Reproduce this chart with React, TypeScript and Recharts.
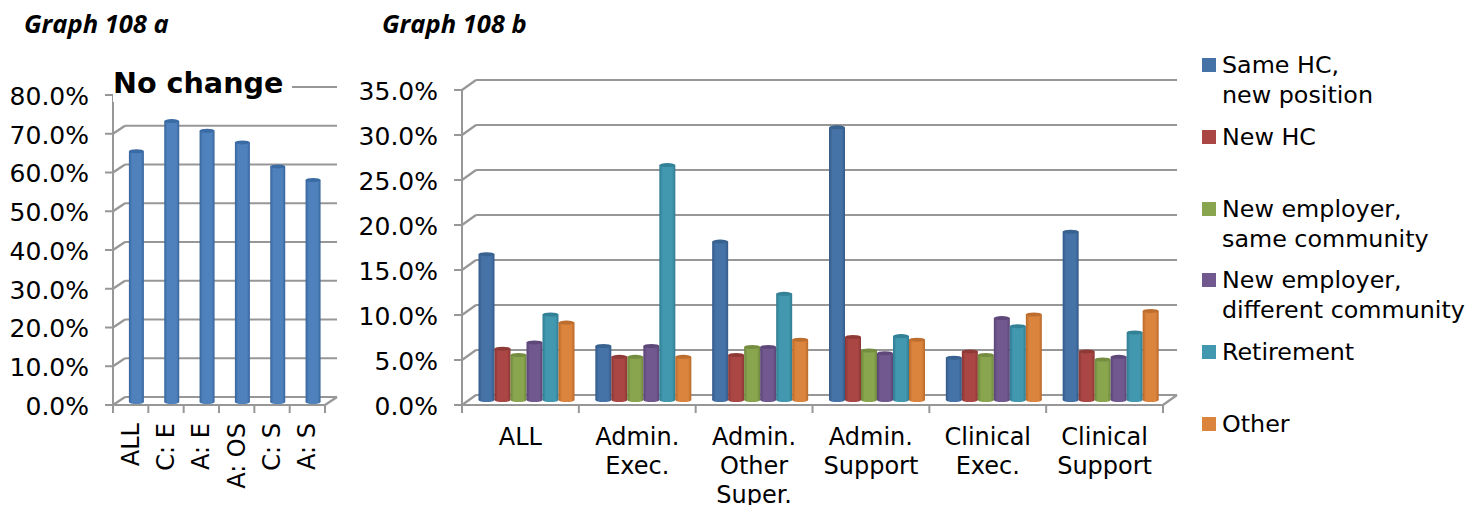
import { BarChart, Bar, XAxis, YAxis, CartesianGrid, Legend } from "recharts";

const FONT = "'DejaVu Sans', Verdana, sans-serif";
const GRID = "#979797";

const categoriesA = ["ALL", "C: E", "A: E", "A: OS", "C: S", "A: S"];
const noChange = [64.7, 72.5, 70, 67, 60.8, 57.3];
const ticksA = [0, 10, 20, 30, 40, 50, 60, 70, 80];

const categoriesB = ["ALL", "Admin. Exec.", "Admin. Other Super.", "Admin. Support", "Clinical Exec.", "Clinical Support"];
const sameHc = [16.2, 6.0, 17.6, 30.3, 4.7, 18.7];
const newHc = [5.7, 4.8, 5.0, 7.0, 5.4, 5.4];
const sameCommunity = [5.0, 4.8, 5.9, 5.5, 5.0, 4.5];
const diffCommunity = [6.4, 6.0, 5.9, 5.2, 9.1, 4.8];
const retirement = [9.5, 26.1, 11.8, 7.1, 8.2, 7.5];
const other = [8.6, 4.8, 6.7, 6.7, 9.5, 9.9];
const ticksB = [0, 5, 10, 15, 20, 25, 30, 35];

const dataA = categoriesA.map((name, i) => ({ name, noChange: noChange[i] }));
const dataB = categoriesB.map((name, i) => ({
  name,
  sameHc: sameHc[i],
  newHc: newHc[i],
  sameCommunity: sameCommunity[i],
  diffCommunity: diffCommunity[i],
  retirement: retirement[i],
  other: other[i],
}));

const seriesB = [
  { key: "sameHc", name: "Same HC,\nnew position", color: "#4572A7", dark: "#345a88", top: "#38628f" },
  { key: "newHc", name: "New HC", color: "#AA4643", dark: "#8a3634", top: "#8f3a37" },
  { key: "sameCommunity", name: "New employer,\nsame community", color: "#89A54E", dark: "#6e873c", top: "#748d40" },
  { key: "diffCommunity", name: "New employer,\ndifferent community", color: "#71588F", dark: "#5a4475", top: "#5e487a" },
  { key: "retirement", name: "Retirement", color: "#4198AF", dark: "#307c91", top: "#338196" },
  { key: "other", name: "Other", color: "#DB843D", dark: "#b9692b", top: "#bd6d2e" },
];

const blueA = { key: "noChange", color: "#4F81BD", dark: "#38669c", top: "#3a6ba4" };

function gradient(s: { key: string; color: string; dark: string }) {
  return (
    <linearGradient id={"cyl-" + s.key} key={s.key} x1="0" y1="0" x2="1" y2="0">
      <stop offset="0%" stopColor={s.dark} />
      <stop offset="22%" stopColor={s.color} />
      <stop offset="80%" stopColor={s.color} />
      <stop offset="100%" stopColor={s.dark} />
    </linearGradient>
  );
}

// bars are drawn mid-way into the fake 3d depth, so they get shifted off the front plane
function cylinder(s: { key: string; top: string }, dx: number, dy: number, ry: number) {
  return (props: any) => {
    const { x, y, width, height } = props;
    const w = width;
    const cx = x + dx + w / 2;
    return (
      <g>
        <ellipse cx={cx} cy={y + height + dy} rx={w / 2} ry={ry} fill={`url(#cyl-${s.key})`} />
        <rect x={x + dx} y={y + dy} width={w} height={height} fill={`url(#cyl-${s.key})`} />
        <ellipse cx={cx} cy={y + dy} rx={w / 2} ry={ry} fill={s.top} />
      </g>
    );
  };
}

// back wall gridline plus the little diagonal that joins it to the axis
function depthGrid(depthX: number, depthY: number, bottomY: number) {
  return (props: any) => {
    const { x1, x2, y1 } = props;
    return (
      <g key={props.key}>
        <line x1={x1} y1={y1} x2={x1 + depthX} y2={y1 - depthY} stroke={GRID} strokeWidth={2.2} />
        <line x1={x1 + depthX} y1={y1 - depthY} x2={x2 + depthX} y2={y1 - depthY} stroke={GRID} strokeWidth={2.2} />
        {y1 === bottomY && (
          <line x1={x2} y1={y1} x2={x2 + depthX} y2={y1 - depthY} stroke={GRID} strokeWidth={2.2} />
        )}
      </g>
    );
  };
}

function boundaryMarks(x: number, y: number, step: number, isLast: boolean) {
  return (
    <>
      <line x1={x - step / 2} y1={y} x2={x - step / 2} y2={y + 8} stroke={GRID} strokeWidth={2} />
      {isLast && <line x1={x + step / 2} y1={y} x2={x + step / 2} y2={y + 8} stroke={GRID} strokeWidth={2} />}
    </>
  );
}

function RotatedTick(props: any) {
  const { x, y, index, payload } = props;
  const step = 35.3;
  return (
    <g>
      {boundaryMarks(x, y, step, index === categoriesA.length - 1)}
      <text
        x={0}
        y={0}
        transform={`translate(${x + 8},${y + 18}) rotate(-90)`}
        textAnchor="end"
        fontSize={24}
        fontFamily={FONT}
        fill="#000"
      >
        {payload.value}
      </text>
    </g>
  );
}

function WrappedTick(props: any) {
  const { x, y, index, payload } = props;
  const step = 116.8;
  const lines = String(payload.value).split(" ");
  return (
    <g>
      {boundaryMarks(x, y, step, index === categoriesB.length - 1)}
      <text textAnchor="middle" fontSize={24} fontFamily={FONT} fill="#000">
        {lines.map((line, i) => (
          <tspan key={line} x={x} y={y + 40 + i * 29}>
            {line}
          </tspan>
        ))}
      </text>
    </g>
  );
}

function LegendBox(props: any) {
  return (
    <div style={{ fontFamily: FONT, fontSize: 23.8, color: "#000" }}>
      {props.payload.map((item: any) => (
        <div key={item.value} style={{ display: "flex", height: 71.8 }}>
          <div style={{ width: 14, height: 14, marginTop: 8, marginRight: 6, background: item.color }} />
          <div style={{ whiteSpace: "pre-line", lineHeight: "30px" }}>{item.value}</div>
        </div>
      ))}
    </div>
  );
}

const titleStyle: React.CSSProperties = {
  position: "absolute",
  top: 8,
  fontFamily: "'Open Sans', Lato, sans-serif",
  fontWeight: 700,
  fontStyle: "italic",
  fontSize: 25.5,
  color: "#000",
  lineHeight: "30px",
};

export default function App() {
  const pct = (v: number) => v.toFixed(1) + "%";
  const axisStroke = { stroke: GRID, strokeWidth: 2 };
  const tickStyle = { fontSize: 25, fontFamily: FONT, fill: "#000", dy: 1 };

  return (
    <div style={{ position: "absolute", left: 0, top: 0, width: 1473, height: 505, overflow: "hidden", background: "#fff" }}>
      <div style={{ ...titleStyle, left: 24 }}>Graph 108 a</div>
      <div style={{ ...titleStyle, left: 382 }}>Graph 108 b</div>

      <div style={{ position: "absolute", left: 0, top: 0 }}>
        <BarChart
          width={345}
          height={505}
          data={dataA}
          margin={{ top: 95, right: 20, bottom: 0, left: 0 }}
          barCategoryGap={10.4}
        >
          <defs>{gradient(blueA)}</defs>
          <CartesianGrid vertical={false} horizontal={depthGrid(12, 8, 405)} stroke={GRID} />
          <XAxis dataKey="name" height={100} interval={0} tickLine={false} tickSize={0} tickMargin={0} axisLine={axisStroke} tick={<RotatedTick />} />
          <YAxis width={113} domain={[0, 80]} ticks={ticksA} interval={0} tickFormatter={pct} tickSize={8} tickMargin={16} axisLine={axisStroke} tickLine={axisStroke} tick={tickStyle} />
          <Bar dataKey="noChange" isAnimationActive={false} shape={cylinder(blueA, 5.5, -3, 2)} />
        </BarChart>
      </div>

      <div
        style={{
          position: "absolute",
          left: 113,
          top: 64,
          background: "#fff",
          fontFamily: FONT,
          fontWeight: 700,
          fontSize: 28.6,
          lineHeight: "38px",
          paddingRight: 9,
          color: "#000",
        }}
      >
        No change
      </div>

      <div style={{ position: "absolute", left: 345, top: 0 }}>
        <BarChart
          width={1128}
          height={505}
          data={dataB}
          margin={{ top: 90, right: 310, bottom: 0, left: 0 }}
          barCategoryGap={11}
          barGap={0}
        >
          <defs>{seriesB.map(gradient)}</defs>
          <CartesianGrid vertical={false} horizontal={depthGrid(14, 10, 405)} stroke={GRID} />
          <XAxis dataKey="name" height={100} interval={0} tickLine={false} tickSize={0} tickMargin={0} axisLine={axisStroke} tick={<WrappedTick />} />
          <YAxis width={117} domain={[0, 35]} ticks={ticksB} interval={0} tickFormatter={pct} tickSize={8} tickMargin={16} axisLine={axisStroke} tickLine={axisStroke} tick={tickStyle} />
          <Legend
            layout="vertical"
            align="center"
            verticalAlign="middle"
            itemSorter={null}
            content={<LegendBox />}
            wrapperStyle={{ left: 857, top: 50, width: 271 }}
          />
          {seriesB.map((s) => (
            <Bar key={s.key} dataKey={s.key} name={s.name} fill={s.color} isAnimationActive={false} shape={cylinder(s, 5.5, -5, 2)} />
          ))}
        </BarChart>
      </div>
    </div>
  );
}
